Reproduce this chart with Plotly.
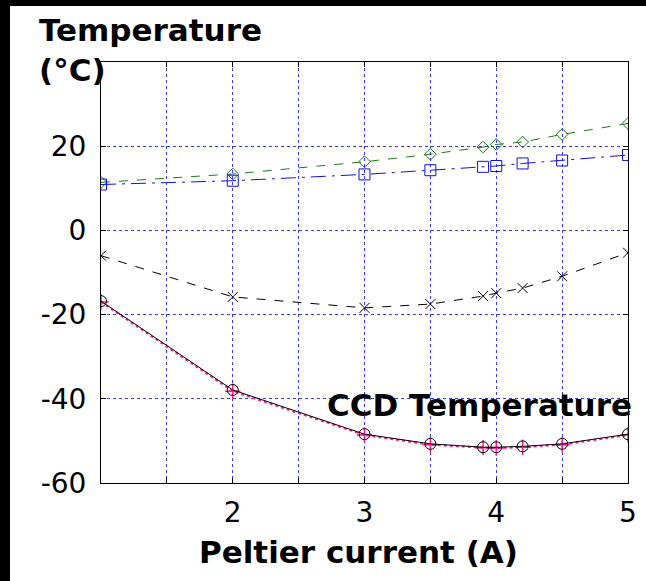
import plotly.graph_objects as go

# Peltier current (A)
current = [1.0, 2.0, 3.0, 3.5, 3.9, 4.0, 4.2, 4.5, 5.0]

# temperatures (°C)
hot_side = [11.4, 13.4, 16.3, 18.1, 19.8, 20.4, 21.0, 22.8, 25.4]
heatsink = [10.9, 11.8, 13.3, 14.3, 15.1, 15.3, 15.9, 16.6, 17.9]
cold_plate = [-6.0, -15.8, -18.4, -17.5, -15.6, -14.9, -13.7, -10.9, -5.3]
ccd_temp = [-16.8, -37.9, -48.4, -50.7, -51.5, -51.5, -51.3, -50.7, -48.4]
ccd_temp_fit = [-17.0, -38.2, -48.6, -50.9, -51.6, -51.7, -51.5, -50.9, -48.6]

x_tickvals = [1.5, 2, 2.5, 3, 3.5, 4, 4.5, 5]
x_ticktext = ["", "2", "", "3", "", "4", "", "5"]
y_tickvals = [-60, -40, -20, 0, 20, 40]
y_ticktext = ["-60", "-40", "-20", "0", "20", ""]

FONT = "DejaVu Sans, sans-serif"

fig = go.Figure()

fig.add_trace(go.Scatter(
    x=current, y=hot_side, mode="lines+markers",
    line=dict(color="#1f7a1f", width=1, dash="dash"),
    marker=dict(symbol="diamond-open", size=9, color="#1f7a1f", line=dict(width=1)),
))
fig.add_trace(go.Scatter(
    x=current, y=heatsink, mode="lines+markers",
    line=dict(color="#1010e0", width=1, dash="longdashdot"),
    marker=dict(symbol="square-open", size=11, color="#1010e0", line=dict(width=1)),
))
fig.add_trace(go.Scatter(
    x=current, y=cold_plate, mode="lines+markers",
    line=dict(color="black", width=1, dash="dash"),
    marker=dict(symbol="x-thin-open", size=10, color="black", line=dict(width=1, color="black")),
))
fig.add_trace(go.Scatter(
    x=current, y=ccd_temp_fit, mode="lines+markers",
    line=dict(color="#ff1a8c", width=2, dash="dot"),
    marker=dict(symbol="cross-thin-open", size=11, color="#ff1a8c", line=dict(width=1.5, color="#ff1a8c")),
))
fig.add_trace(go.Scatter(
    x=current, y=ccd_temp, mode="lines+markers",
    line=dict(color="black", width=1),
    marker=dict(symbol="circle-open", size=11, color="black", line=dict(width=1)),
))

fig.add_annotation(
    x=3.87, y=-41.5, xref="x", yref="y", text="<b>CCD Temperature</b>",
    showarrow=False, font=dict(family=FONT, size=31, color="black"),
)
# y-axis title, written in the top-left corner
fig.add_annotation(
    x=-0.1214, y=1.076, xref="paper", yref="paper", text="<b>Temperature</b>",
    showarrow=False, xanchor="left", yanchor="middle",
    font=dict(family=FONT, size=31, color="black"),
)
fig.add_annotation(
    x=-0.1214, y=0.98, xref="paper", yref="paper", text="<b>(°C)</b>",
    showarrow=False, xanchor="left", yanchor="middle",
    font=dict(family=FONT, size=31, color="black"),
)
fig.add_annotation(
    x=0.4877, y=-0.164, xref="paper", yref="paper", text="<b>Peltier current (A)</b>",
    showarrow=False, xanchor="center", yanchor="middle",
    font=dict(family=FONT, size=31, color="black"),
)

# black strips along the top and left edges of the image
fig.add_shape(type="rect", xref="paper", yref="paper", x0=-0.25, x1=1.1, y0=1.133, y1=1.2,
              fillcolor="black", line_width=0)
fig.add_shape(type="rect", xref="paper", yref="paper", x0=-0.25, x1=-0.1727, y0=-0.3, y1=1.2,
              fillcolor="black", line_width=0)

axis_common = dict(
    showline=True, linecolor="black", linewidth=1, mirror="ticks",
    ticks="inside", ticklen=5, tickcolor="black",
    showgrid=True, gridcolor="#3a3aff", griddash="dot", gridwidth=1,
    zeroline=False, automargin=False,
    tickfont=dict(family=FONT, size=28, color="black"),
)

fig.update_xaxes(
    range=[1, 5], tickvals=x_tickvals, ticktext=x_ticktext,
    ticklabelstandoff=4,
    **axis_common,
)
fig.update_yaxes(
    range=[-60, 40], tickvals=y_tickvals, ticktext=y_ticktext,
    ticklabelstandoff=8,
    **axis_common,
)

fig.update_layout(
    width=646, height=581,
    paper_bgcolor="white", plot_bgcolor="white",
    showlegend=False,
    margin=dict(l=101, r=18, t=62, b=98),
    font=dict(family=FONT, color="black"),
)

# drop the page's default body margin so the figure sits at the window's corner
fig.write_html(
    "out.html",
    config={"displayModeBar": False},
    post_script="document.body.style.margin = '0px';",
)
